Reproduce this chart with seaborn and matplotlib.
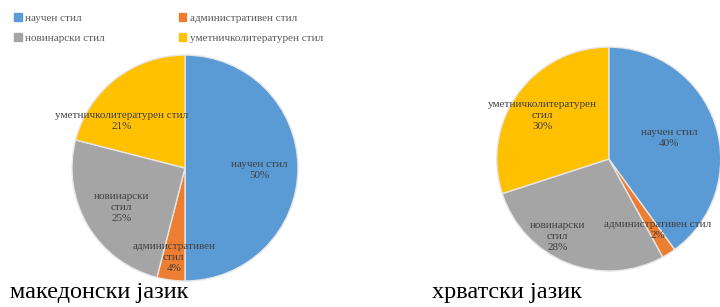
import matplotlib
matplotlib.use("Agg")
import matplotlib.pyplot as plt
import matplotlib.patches as mpatches
import seaborn as sns

# Data
styles = ['научен стил', 'административен стил', 'новинарски стил', 'уметничколитературен стил']
mk_values = [50, 4, 25, 21]
hr_values = [40, 2, 28, 30]
mk_labels = ['научен стил', 'административен\nстил', 'новинарски\nстил', 'уметничколитературен стил']
hr_labels = ['научен стил', 'административен стил', 'новинарски\nстил', 'уметничколитературен\nстил']
titles = ['македонски јазик', 'хрватски јазик']

# label centres relative to pie centre, in radius units (Office moves them around)
mk_label_pos = [(0.66, -0.02), (-0.10, -0.79), (-0.56, -0.35), (-0.56, 0.42)]
hr_label_pos = [(0.54, 0.19), (0.44, -0.63), (-0.46, -0.69), (-0.59, 0.39)]

colors = ['#5B9BD5', '#ED7D31', '#A5A5A5', '#FFC000']

sns.set_theme(style="white")
plt.rcParams['font.family'] = ['Liberation Serif', 'DejaVu Serif']

fig = plt.figure(figsize=(7.2, 3.07), dpi=100)


def draw_pie(rect, values, labels, label_pos, title, title_x):
    ax = fig.add_axes(rect)
    wedges, _ = ax.pie(values, colors=colors, startangle=90, counterclock=False,
                       radius=1, wedgeprops=dict(edgecolor='#e6e6e6', linewidth=1))
    ax.set_xlim(-1, 1)
    ax.set_ylim(-1, 1)
    ax.set_aspect('equal')
    ax.axis('off')
    for lab, v, (x, y) in zip(labels, values, label_pos):
        ax.text(x, y, f'{lab}\n{v}%', ha='center', va='center', fontsize=8,
                color='#404040', linespacing=1.3)
    fig.text(title_x, 0.012, title, fontsize=17.5, color='black', ha='left', va='bottom')
    return ax


draw_pie([0.1, 0.0847, 0.3139, 0.736], mk_values, mk_labels, mk_label_pos, titles[0], 0.014)
draw_pie([0.690, 0.117, 0.311, 0.730], hr_values, hr_labels, hr_label_pos, titles[1], 0.600)

# legend fills column by column, so order it to read row by row like the original
order = [0, 2, 1, 3]
handles = [mpatches.Patch(color=colors[i], label=styles[i]) for i in order]
fig.legend(handles=handles, ncol=2, loc='upper left', bbox_to_anchor=(0.006, 0.99),
           frameon=False, fontsize=8, labelcolor='#595959', handlelength=0.7,
           handleheight=0.7, handletextpad=0.3, columnspacing=6.6, labelspacing=0.9)

fig.savefig('out.png', dpi=100)
